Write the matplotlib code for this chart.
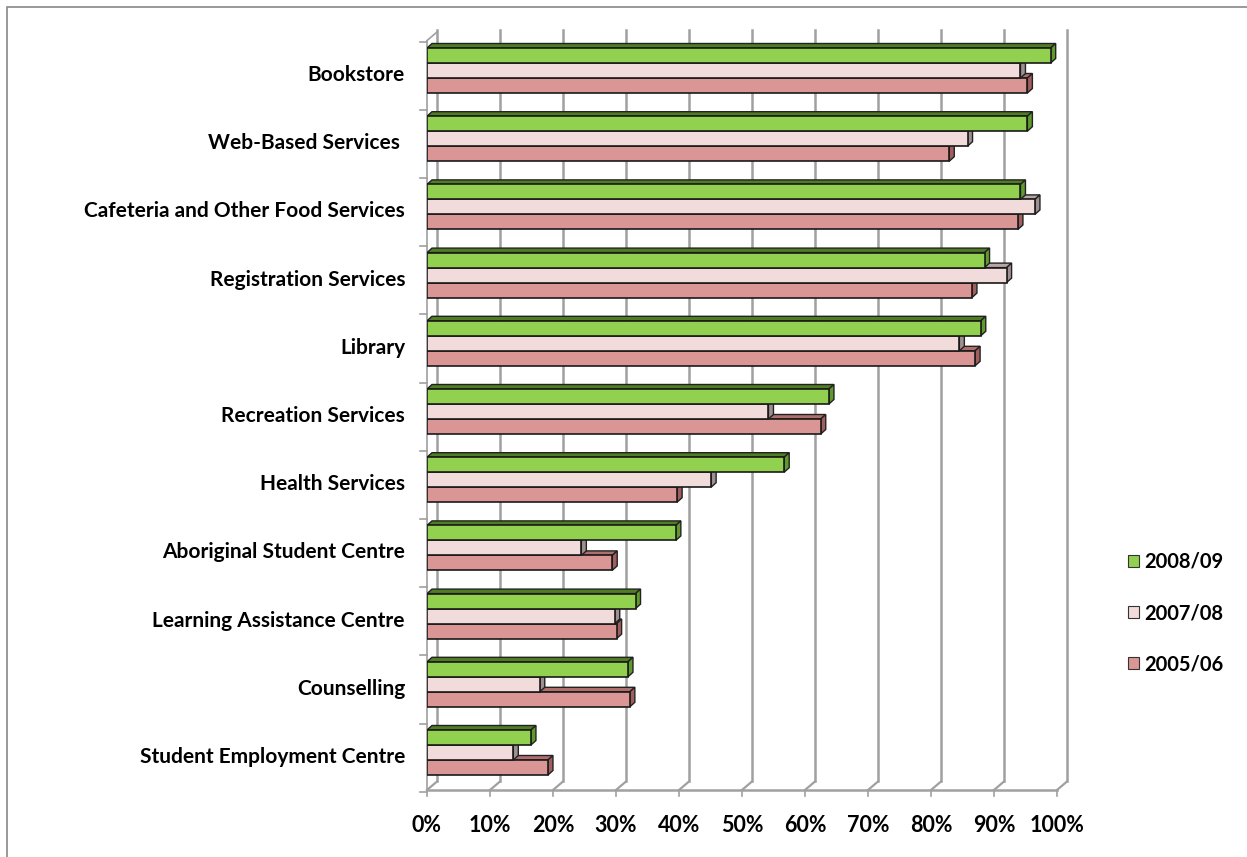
import numpy as np
import matplotlib
matplotlib.use("Agg")
import matplotlib.pyplot as plt
from matplotlib.patches import Polygon, Rectangle, Patch

categories = ["Bookstore", "Web-Based Services ", "Cafeteria and Other Food Services",
              "Registration Services", "Library", "Recreation Services", "Health Services",
              "Aboriginal Student Centre", "Learning Assistance Centre", "Counselling",
              "Student Employment Centre"]
series_names = ["2008/09", "2007/08", "2005/06"]
v_0809 = [99.0, 95.3, 94.2, 88.5, 87.9, 63.8, 56.7, 39.5, 33.1, 31.9, 16.5]
v_0708 = [94.2, 85.8, 96.5, 92.0, 84.5, 54.2, 45.1, 24.5, 29.8, 17.9, 13.7]
v_0506 = [95.3, 82.9, 93.8, 86.5, 87.0, 62.5, 39.7, 29.4, 30.1, 32.2, 19.2]
ticks = np.arange(0, 101, 10)

# face, top, side colours per series
styles = [("#92D050", "#4E7D22", "#5E9B2C"),
          ("#F2DCDB", "#B8A6A5", "#9E9090"),
          ("#D99694", "#B06E6C", "#A05E5C")]

W, H = 1247, 857
fig = plt.figure(figsize=(W / 100, H / 100), dpi=100)
plt.rcParams['font.family'] = ['Lato', 'DejaVu Sans']

# pixel geometry of the front plane
px_x = 6.3          # px per percent
px_y = 68.2         # px per category
y0_px = 70.5        # centre of first group
floor_px, top_px = 790, 30
ybot = (floor_px - y0_px) / px_y
ytop = (top_px - y0_px) / px_y
ax = fig.add_axes([427 / W, (H - floor_px) / H, 630 / W, (floor_px - top_px) / H])
ax.set_xlim(0, 100)
ax.set_ylim(ybot, ytop)
ax.axis("off")

# wall depth and bar depth offsets (data units)
wdx, wdy = 10 / px_x, 8.5 / px_y
bdx, bdy = 5 / px_x, 4.5 / px_y
grid_c = "#A0A0A0"

# back wall gridlines + floor slants
for t in ticks:
    ax.plot([t + wdx, t + wdx], [ybot - wdy, ytop], color=grid_c, lw=1.8, clip_on=False, zorder=1)
    ax.plot([t, t + wdx], [ybot, ybot - wdy], color=grid_c, lw=1.6, clip_on=False, zorder=1)
    ax.plot([t, t], [ybot, ybot + 6 / px_y], color=grid_c, lw=1.2, clip_on=False, zorder=1)
ax.plot([0, 100], [ybot, ybot], color=grid_c, lw=1.8, clip_on=False, zorder=1)
# left front axis with slant at top
ax.plot([0, 0], [ybot, ytop + wdy + 0.03], color=grid_c, lw=1.2, clip_on=False, zorder=1)
ax.plot([0, wdx], [ytop + wdy + 0.03, ytop + 0.03], color=grid_c, lw=1.2, clip_on=False, zorder=1)
for k in range(len(categories) + 1):
    yt = (41.7 - y0_px) / px_y + k
    ax.plot([-7 / px_x, 0], [yt, yt], color=grid_c, lw=1.2, clip_on=False, zorder=1)

h = 15 / px_y
offsets = [-h, 0, h]
all_vals = [v_0809, v_0708, v_0506]
for i in range(len(categories)):
    for s in [2, 1, 0]:
        v = all_vals[s][i]
        face, top, side = styles[s]
        yc = i + offsets[s]
        y_top, y_bot = yc - h / 2, yc + h / 2
        top_poly = Polygon([(0, y_top), (v, y_top), (v + bdx, y_top - bdy), (bdx, y_top - bdy)],
                           closed=True, facecolor=top, edgecolor="#222222", lw=1.0, zorder=3)
        side_poly = Polygon([(v, y_top), (v + bdx, y_top - bdy), (v + bdx, y_bot - bdy), (v, y_bot)],
                            closed=True, facecolor=side, edgecolor="#222222", lw=1.0, zorder=3)
        ax.add_patch(top_poly)
        ax.add_patch(side_poly)
        ax.add_patch(Rectangle((0, y_top), v, h, facecolor=face, edgecolor="#1A1A1A",
                               lw=1.2, zorder=3))

# category labels
for i, name in enumerate(categories):
    ax.text(-22 / px_x, i + 4.5 / px_y, name, ha="right", va="center", fontsize=15,
            fontweight="bold", clip_on=False)
# percent labels
for t in ticks:
    ax.text(t, ybot + 36 / px_y, "{}%".format(t), ha="center", va="center", fontsize=15.5,
            fontweight="bold", clip_on=False)

handles = [Patch(facecolor=styles[s][0], edgecolor="#333333", lw=0.8) for s in range(3)]
fig.legend(handles, series_names, loc="center left", bbox_to_anchor=(1110 / W, 1 - 613 / H),
           frameon=False, prop={"weight": "bold", "size": 14.5}, handlelength=0.55,
           handleheight=0.55, handletextpad=0.25, labelspacing=1.55)

fig.patches.append(Rectangle((7 / W, -0.01), 1.1, 1 - 7 / H + 0.01, transform=fig.transFigure,
                             fill=False, edgecolor="#888888", lw=1.2))

fig.savefig("out.png", dpi=100)
